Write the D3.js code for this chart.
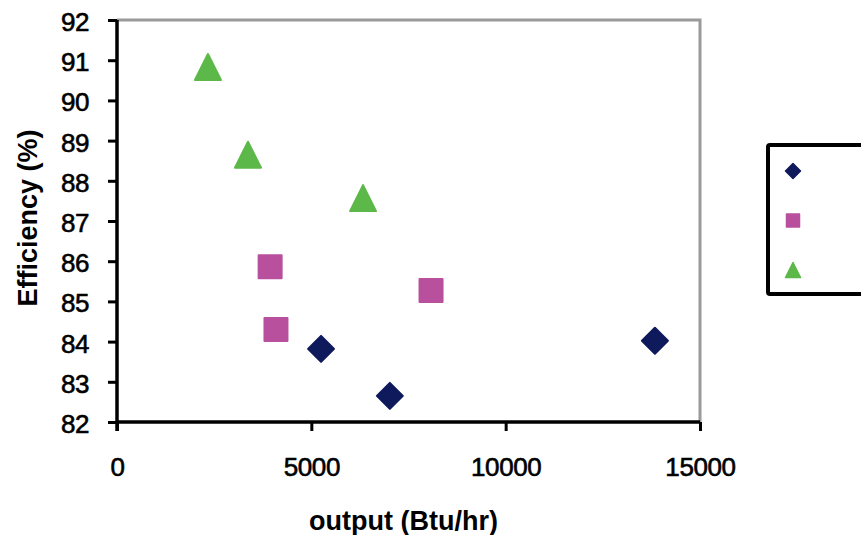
<!DOCTYPE html>
<meta charset="utf-8">
<script src="https://d3js.org/d3.v7.min.js"></script>
<style>
	body{
		margin:0;
		background:#fff;
	}
</style>
<div id="chart"></div>

<script>

// data
var seriesColors = ["#0f1a5c","#b8509e","#5cb848"]
var seriesShapes = ["diamond","square","triangle"]

var diamondX = [5250, 7020, 13840]
var diamondY = [83.82, 82.65, 84.02]

var squareX = [3940, 4090, 8080]
var squareY = [85.86, 84.30, 85.27]

var triangleX = [2340, 3370, 6330]
var triangleY = [90.83, 88.65, 87.57]

var xTicks = [0, 5000, 10000, 15000]
var yTicks = [82,83,84,85,86,87,88,89,90,91,92]

var w = 861
var h = 535
var font = "Arial, 'Liberation Sans', sans-serif"

var svg = d3.select("#chart").append("svg").attr("width",w).attr("height",h)

var x = d3.scaleLinear().domain([0,15000]).range([117,700])
var y = d3.scaleLinear().domain([82,92]).range([422,20])

// plot frame: grey top and right
svg.append("path")
	.attr("d","M"+x(0)+","+y(92)+"H"+x(15000)+"V"+y(82))
	.attr("fill","none")
	.attr("stroke","#9a9a9a")
	.attr("stroke-width",3)

// axes
var yAxis = svg.append("g").attr("transform","translate("+x(0)+",0)")
	.call(d3.axisLeft(y).tickValues(yTicks).tickSize(9).tickPadding(19).tickFormat(d3.format("d")))
var xAxis = svg.append("g").attr("transform","translate(0,"+y(82)+")")
	.call(d3.axisBottom(x).tickValues(xTicks).tickSize(9).tickPadding(27).tickFormat(d3.format("d")))

yAxis.select(".domain").attr("d","M0,"+y(92)+"V"+(y(82)+9))
xAxis.select(".domain").attr("d","M"+x(0)+",0H"+x(15000))
svg.selectAll(".domain").attr("stroke","#000").attr("stroke-width",3.5)
svg.selectAll(".tick line").attr("stroke","#000").attr("stroke-width",3)
svg.selectAll(".tick text")
	.attr("font-family",font).attr("font-size",26).attr("fill","#000")
	.attr("stroke","#000").attr("stroke-width",0.6)
	.attr("letter-spacing",-0.4)
yAxis.selectAll(".tick text").attr("dy","0.4em")
xAxis.selectAll(".tick text").attr("dy","0.71em")

// axis titles
svg.append("text")
	.attr("font-family",font).attr("font-size",27).attr("font-weight","bold")
	.attr("x",x(7500)-5).attr("y",530)
	.attr("text-anchor","middle")
	.text("output (Btu/hr)")

svg.append("text")
	.attr("font-family",font).attr("font-size",27).attr("font-weight","bold")
	.attr("transform","translate(37,218) rotate(-90)")
	.attr("text-anchor","middle")
	.text("Efficiency (%)")

// marker shapes, sized by bounding width
function markerPath(shape,s){
	var p = d3.path()
	var r = s/2
	if(shape=="diamond"){
		p.moveTo(0,-r); p.lineTo(r,0); p.lineTo(0,r); p.lineTo(-r,0); p.closePath()
	}else if(shape=="square"){
		p.rect(-r,-r,s,s)
	}else{
		p.moveTo(0,-r); p.lineTo(r,r); p.lineTo(-r,r); p.closePath()
	}
	return p.toString()
}

var series = [
	{xs:diamondX, ys:diamondY, size:26},
	{xs:squareX, ys:squareY, size:23},
	{xs:triangleX, ys:triangleY, size:26}
]

series.forEach(function(s,i){
	svg.append("g").selectAll("path")
		.data(d3.zip(s.xs,s.ys))
		.join("path")
		.attr("transform",function(d){return "translate("+x(d[0])+","+y(d[1])+")"})
		.attr("d",markerPath(seriesShapes[i],s.size))
		.attr("fill",seriesColors[i])
		.attr("stroke",seriesColors[i])
		.attr("stroke-width",2)
		.attr("stroke-linejoin","round")
})

// legend (labels fall outside the picture)
var legend = svg.append("g")
legend.append("rect")
	.attr("x",768).attr("y",145).attr("width",120).attr("height",149)
	.attr("rx",2)
	.attr("fill","#fff").attr("stroke","#000").attr("stroke-width",4)

legend.selectAll(".legMark").data(seriesShapes).join("path")
	.attr("class","legMark")
	.attr("transform",function(d,i){return "translate(793,"+(171+i*49.5)+")"})
	.attr("d",function(d,i){return markerPath(d,[15,13,15][i])})
	.attr("fill",function(d,i){return seriesColors[i]})
	.attr("stroke",function(d,i){return seriesColors[i]})
	.attr("stroke-width",1.5)
	.attr("stroke-linejoin","round")

</script>
